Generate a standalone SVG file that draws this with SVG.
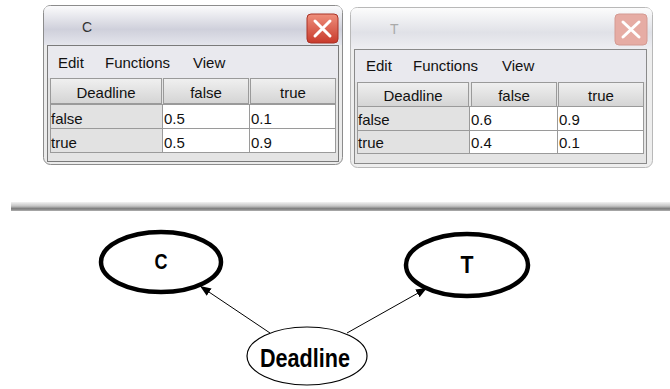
<svg xmlns="http://www.w3.org/2000/svg" width="670" height="389" viewBox="0 0 670 389">
<style>
.ui{font-family:"Liberation Sans",Arial,sans-serif;font-size:15px;fill:#111}
.hdr{fill:url(#hdrg);stroke:#9a9a9a;stroke-width:1}
.lab{fill:#e2e2e2;stroke:#9a9a9a;stroke-width:1}
.val{fill:#ffffff;stroke:#9a9a9a;stroke-width:1}
.node{font-family:"Liberation Sans",Arial,sans-serif;font-weight:bold;fill:#000;text-anchor:middle}
.edge{stroke:#000;stroke-width:1;fill:none;marker-end:url(#arr)}
</style>
<defs>
<linearGradient id="titleA" x1="0" y1="0" x2="0" y2="1">
<stop offset="0" stop-color="#fbfbfc"/><stop offset="0.6" stop-color="#cfd0db"/><stop offset="1" stop-color="#e4e5ec"/>
</linearGradient>
<linearGradient id="titleI" x1="0" y1="0" x2="0" y2="1">
<stop offset="0" stop-color="#fcfcfc"/><stop offset="0.6" stop-color="#e0e1e7"/><stop offset="1" stop-color="#eeeef2"/>
</linearGradient>
<linearGradient id="hdrg" x1="0" y1="0" x2="0" y2="1">
<stop offset="0" stop-color="#f0f0f0"/><stop offset="1" stop-color="#d4d4d4"/>
</linearGradient>
<linearGradient id="redA" x1="0" y1="0" x2="0" y2="1">
<stop offset="0" stop-color="#ef8f7c"/><stop offset="1" stop-color="#c83a2c"/>
</linearGradient>
<linearGradient id="div" x1="0" y1="0" x2="0" y2="1">
<stop offset="0" stop-color="#f2f2f2"/><stop offset="0.45" stop-color="#c4c4c4"/><stop offset="0.75" stop-color="#7a7a7a"/><stop offset="1" stop-color="#b0b0b0"/>
</linearGradient>
<marker id="arr" viewBox="0 0 10 8" refX="10" refY="4" markerWidth="11" markerHeight="9" markerUnits="userSpaceOnUse" orient="auto">
<path d="M0,0 L10,4 L0,8 z" fill="#000"/>
</marker>
</defs>
<rect width="670" height="389" fill="#ffffff"/>

<g id="window-C">
<rect x="43.5" y="5.5" width="299" height="159" rx="7" fill="#ebebeb" stroke="#8c8c8c"/>
<path d="M44,45 V12 Q44,6 50,6 H336 Q342,6 342,12 V45 Z" fill="url(#titleA)"/>
<text x="82" y="32" class="ui" style="font-size:14px;fill:#333">C</text>
<rect x="307" y="14" width="31" height="29" rx="4" fill="url(#redA)" stroke="#a83226"/>
<path d="M315,21 L330,36 M330,21 L315,36" stroke="#fff" stroke-width="3" stroke-linecap="round"/>
<rect x="47.5" y="45.5" width="291" height="116" fill="#e4e4e4" stroke="#7a7a7a"/>
<rect x="48" y="46" width="290" height="32" fill="#e9e9ee"/>
<text x="58" y="68" class="ui">Edit</text>
<text x="105" y="68" class="ui">Functions</text>
<text x="193" y="68" class="ui">View</text>
<rect x="50.5" y="78.5" width="111" height="25" class="hdr"/>
<rect x="163.5" y="78.5" width="85" height="25" class="hdr"/>
<rect x="250.5" y="78.5" width="85" height="25" class="hdr"/>
<text x="106" y="98" class="ui" text-anchor="middle">Deadline</text>
<text x="206" y="98" class="ui" text-anchor="middle">false</text>
<text x="293" y="98" class="ui" text-anchor="middle">true</text>
<rect x="50.5" y="104.5" width="112" height="24" class="lab"/>
<rect x="162.5" y="104.5" width="87" height="24" class="val"/>
<rect x="249.5" y="104.5" width="86" height="24" class="val"/>
<rect x="50.5" y="128.5" width="112" height="24" class="lab"/>
<rect x="162.5" y="128.5" width="87" height="24" class="val"/>
<rect x="249.5" y="128.5" width="86" height="24" class="val"/>
<text x="51" y="124" class="ui">false</text>
<text x="164" y="124" class="ui">0.5</text>
<text x="251" y="124" class="ui">0.1</text>
<text x="51" y="148" class="ui">true</text>
<text x="164" y="148" class="ui">0.5</text>
<text x="251" y="148" class="ui">0.9</text>
</g>

<g id="window-T">
<rect x="350.5" y="7.5" width="302" height="160" rx="7" fill="#eeeeee" stroke="#b8b8b8"/>
<path d="M351,49 V14 Q351,8 357,8 H646 Q652,8 652,14 V49 Z" fill="url(#titleI)"/>
<text x="390" y="34" class="ui" style="font-size:14px;fill:#aaaaaa">T</text>
<rect x="615" y="14" width="32" height="31" rx="4" fill="#e6aca4" stroke="#d49a92"/>
<path d="M623,22 L639,37 M639,22 L623,37" stroke="#fff" stroke-width="3" stroke-linecap="round"/>
<rect x="354.5" y="49.5" width="292" height="114" fill="#e4e4e4" stroke="#8a8a8a"/>
<rect x="355" y="50" width="291" height="32" fill="#e9e9ee"/>
<text x="366" y="71" class="ui">Edit</text>
<text x="413" y="71" class="ui">Functions</text>
<text x="502" y="71" class="ui">View</text>
<rect x="357.5" y="82.5" width="111" height="24" class="hdr"/>
<rect x="471.5" y="82.5" width="85" height="24" class="hdr"/>
<rect x="558.5" y="82.5" width="85" height="24" class="hdr"/>
<text x="413" y="101" class="ui" text-anchor="middle">Deadline</text>
<text x="514" y="101" class="ui" text-anchor="middle">false</text>
<text x="601" y="101" class="ui" text-anchor="middle">true</text>
<rect x="357.5" y="106.5" width="112" height="24" class="lab"/>
<rect x="469.5" y="106.5" width="88" height="24" class="val"/>
<rect x="557.5" y="106.5" width="86" height="24" class="val"/>
<rect x="357.5" y="130.5" width="112" height="23" class="lab"/>
<rect x="469.5" y="130.5" width="88" height="23" class="val"/>
<rect x="557.5" y="130.5" width="86" height="23" class="val"/>
<text x="358" y="125" class="ui">false</text>
<text x="471" y="125" class="ui">0.6</text>
<text x="559" y="125" class="ui">0.9</text>
<text x="358" y="148" class="ui">true</text>
<text x="471" y="148" class="ui">0.4</text>
<text x="559" y="148" class="ui">0.1</text>
</g>

<rect id="divider" x="11" y="202" width="659" height="9" fill="url(#div)"/>

<g id="connectors">
<line x1="270" y1="333" x2="200" y2="286" class="edge"/>
<line x1="347" y1="333" x2="427" y2="288" class="edge"/>
</g>

<g id="node-C">
<ellipse cx="161" cy="262" rx="60" ry="30" fill="#fff" stroke="#000" stroke-width="4.5"/>
<text x="161" y="269" class="node" font-size="22" textLength="13" lengthAdjust="spacingAndGlyphs">C</text>
</g>
<g id="node-T">
<ellipse cx="467" cy="265" rx="61" ry="31" fill="#fff" stroke="#000" stroke-width="4.5"/>
<text x="467" y="273" class="node" font-size="24" textLength="13" lengthAdjust="spacingAndGlyphs">T</text>
</g>
<g id="node-Deadline">
<ellipse cx="307" cy="356" rx="60" ry="29" fill="#fff" stroke="#000" stroke-width="1.2"/>
<text x="305" y="367" class="node" font-size="26" textLength="90" lengthAdjust="spacingAndGlyphs">Deadline</text>
</g>
</svg>
